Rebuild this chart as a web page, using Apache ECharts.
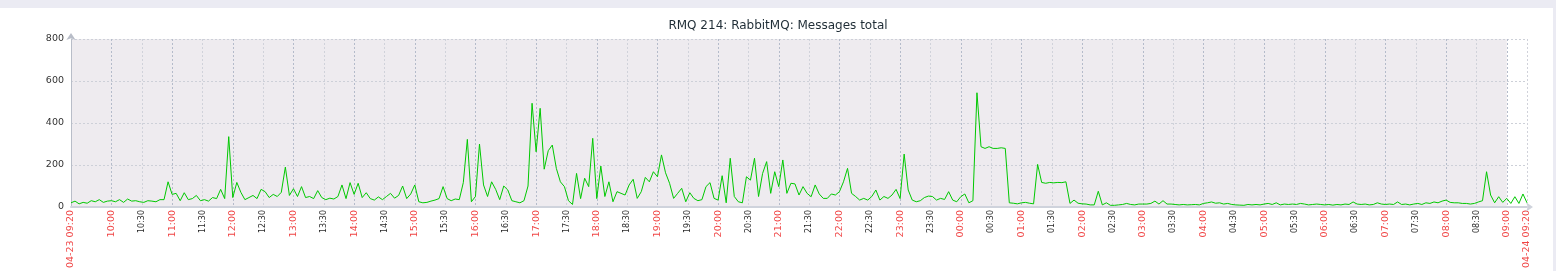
<!DOCTYPE html>
<html>
<head>
<meta charset="utf-8">
<script src="https://cdn.jsdelivr.net/npm/echarts@6/dist/echarts.min.js"></script>
<style>
html,body{margin:0;padding:0;background:#fff;}
#c{width:1556px;height:271px;}
</style>
</head>
<body>
<div id="c"></div>
<script>
// Series sampled every 4 minutes, starting 04-23 09:20
const stepMinutes = 4;
// 09:20 - 14:56
const blockA = [
  20,28,15,22,18,30,25,35,22,28,
  30,25,35,22,38,28,30,25,22,30,28,25,35,35,120,
  60,65,30,68,35,40,55,30,35,28,45,40,84,40,335,
  45,117,70,35,45,55,40,84,73,45,60,50,70,190,55,
  87,50,97,45,50,40,78,45,35,42,38,50,105,40,116,
  60,113,45,68,40,33,48,35,50,65,42,55,100,40,62
];
// 15:00 - 20:56
const blockB = [
  105,25,20,22,28,33,40,97,40,30,38,35,116,322,25,
  50,300,105,50,120,84,35,100,81,30,25,20,30,100,494,
  263,470,180,268,295,184,120,97,30,12,160,40,137,97,327,
  40,195,50,120,25,73,65,57,105,132,41,73,141,120,168,
  144,248,163,113,41,65,89,25,68,41,30,35,97,116,41,
  33,149,20,232,50,25,20,144,128,232,50,160,216,65,168
];
// 21:00 - 02:56
const blockC = [
  97,224,65,113,110,57,97,65,49,105,62,41,41,62,57,
  73,120,184,65,50,33,41,33,50,81,33,50,41,57,84,
  40,252,81,33,25,30,45,52,50,33,41,36,73,33,25,
  49,62,20,30,544,287,279,287,279,279,282,279,20,18,15,
  20,22,18,15,203,117,113,117,115,117,116,120,17,33,18,
  15,14,10,10,75,10,20,8,8,10,12,17,12,10,14
];
// 03:00 - 09:20 (04-24)
const blockD = [
  14,14,17,28,14,30,14,14,12,10,12,10,11,12,10,
  17,20,24,18,20,14,17,12,10,9,8,12,10,12,10,
  14,17,12,20,10,14,12,14,12,17,14,10,12,14,12,
  10,12,9,12,10,14,12,24,14,12,14,10,12,20,14,
  12,14,12,24,12,14,10,14,17,12,20,17,24,20,28,
  33,22,20,20,17,17,14,17,24,30,168,57,20,49,22,
  41,17,49,17,62,20
];
// x-axis tick positions (minutes after 04-23 09:20) and their labels
const tickMinutes = [0];
for (let m = 40; m <= 1420; m += 30) tickMinutes.push(m);
tickMinutes.push(1440);
const startLabel = '04-23 09:20';
const endLabel = '04-24 09:20';
const shadedUntil = 1420; // 09:00 on 04-24

const values = blockA.concat(blockB, blockC, blockD);
const seriesData = values.map((v, i) => [i * stepMinutes, v]);

function fmtTime(m) {
  const total = (9 * 60 + 20 + m) % 1440;
  const h = Math.floor(total / 60), mm = total % 60;
  return (h < 10 ? '0' : '') + h + ':' + (mm < 10 ? '0' : '') + mm;
}

const chart = echarts.init(document.getElementById('c'), null, {renderer: 'canvas'});
const FONT = 'DejaVu Sans';
chart.setOption({
  animation: false,
  backgroundColor: '#ffffff',
  textStyle: {fontFamily: FONT},
  title: {
    text: 'RMQ 214: RabbitMQ: Messages total',
    left: 'center',
    top: 15,
    textStyle: {fontFamily: FONT, fontSize: 12, fontWeight: 'normal', color: '#1f2d36'}
  },
  graphic: [
    {type: 'rect', left: 0, top: 0, shape: {width: 1556, height: 8}, style: {fill: '#ebebf3'}, silent: true},
    {type: 'rect', left: 1553, top: 0, shape: {width: 3, height: 271}, style: {fill: '#ebebf3'}, silent: true}
  ],
  grid: {left: 71, right: 29, top: 39, bottom: 64, containLabel: false, outerBoundsMode: 'none'},
  xAxis: {
    type: 'value',
    min: 0,
    max: 1440,
    z: 1,
    axisLine: {show: true, symbol: ['none', 'arrow'], symbolSize: [7, 7], symbolOffset: [0, 6],
      lineStyle: {color: '#cfd3dc', width: 2}},
    axisTick: {show: false, customValues: tickMinutes},
    splitLine: {show: true, lineStyle: {color: ['#d0d2da', '#b4bbca'], type: [2, 2], width: 1}},
    axisLabel: {
      customValues: tickMinutes,
      rotate: 90,
      margin: 3,
      fontFamily: FONT,
      formatter: function (v) {
        if (v === 0) return '{r|' + startLabel + '}';
        if (v === 1440) return '{r|' + endLabel + '}';
        const t = fmtTime(v);
        return t.slice(3) === '00' ? '{r|' + t + '}' : '{k|' + t + '}';
      },
      rich: {
        r: {color: '#f04545', fontSize: 9.5, fontFamily: FONT},
        k: {color: '#2a2a2a', fontSize: 8, fontFamily: FONT}
      }
    }
  },
  yAxis: {
    type: 'value',
    min: 0,
    max: 800,
    interval: 200,
    z: 1,
    axisLine: {show: true, symbol: ['none', 'arrow'], symbolSize: [7, 7], symbolOffset: [0, 6],
      lineStyle: {color: '#b8bdc8', width: 1}},
    axisTick: {show: false},
    splitLine: {show: true, lineStyle: {color: '#cdd0d8', type: [2, 2], width: 1}},
    axisLabel: {margin: 7, fontSize: 9.5, color: '#333', fontFamily: FONT}
  },
  series: [
    {
      type: 'line',
      z: 0,
      data: [],
      silent: true,
      markArea: {
        silent: true,
        z: 0,
        zlevel: 0,
        itemStyle: {color: '#eeebef'},
        data: [[{xAxis: 0}, {xAxis: shadedUntil}]]
      }
    },
    {
      type: 'line',
      z: 3,
      data: seriesData,
      showSymbol: false,
      symbol: 'none',
      silent: true,
      lineStyle: {color: '#00c800', width: 1},
      itemStyle: {color: '#00c800'}
    }
  ]
});
</script>
</body>
</html>
